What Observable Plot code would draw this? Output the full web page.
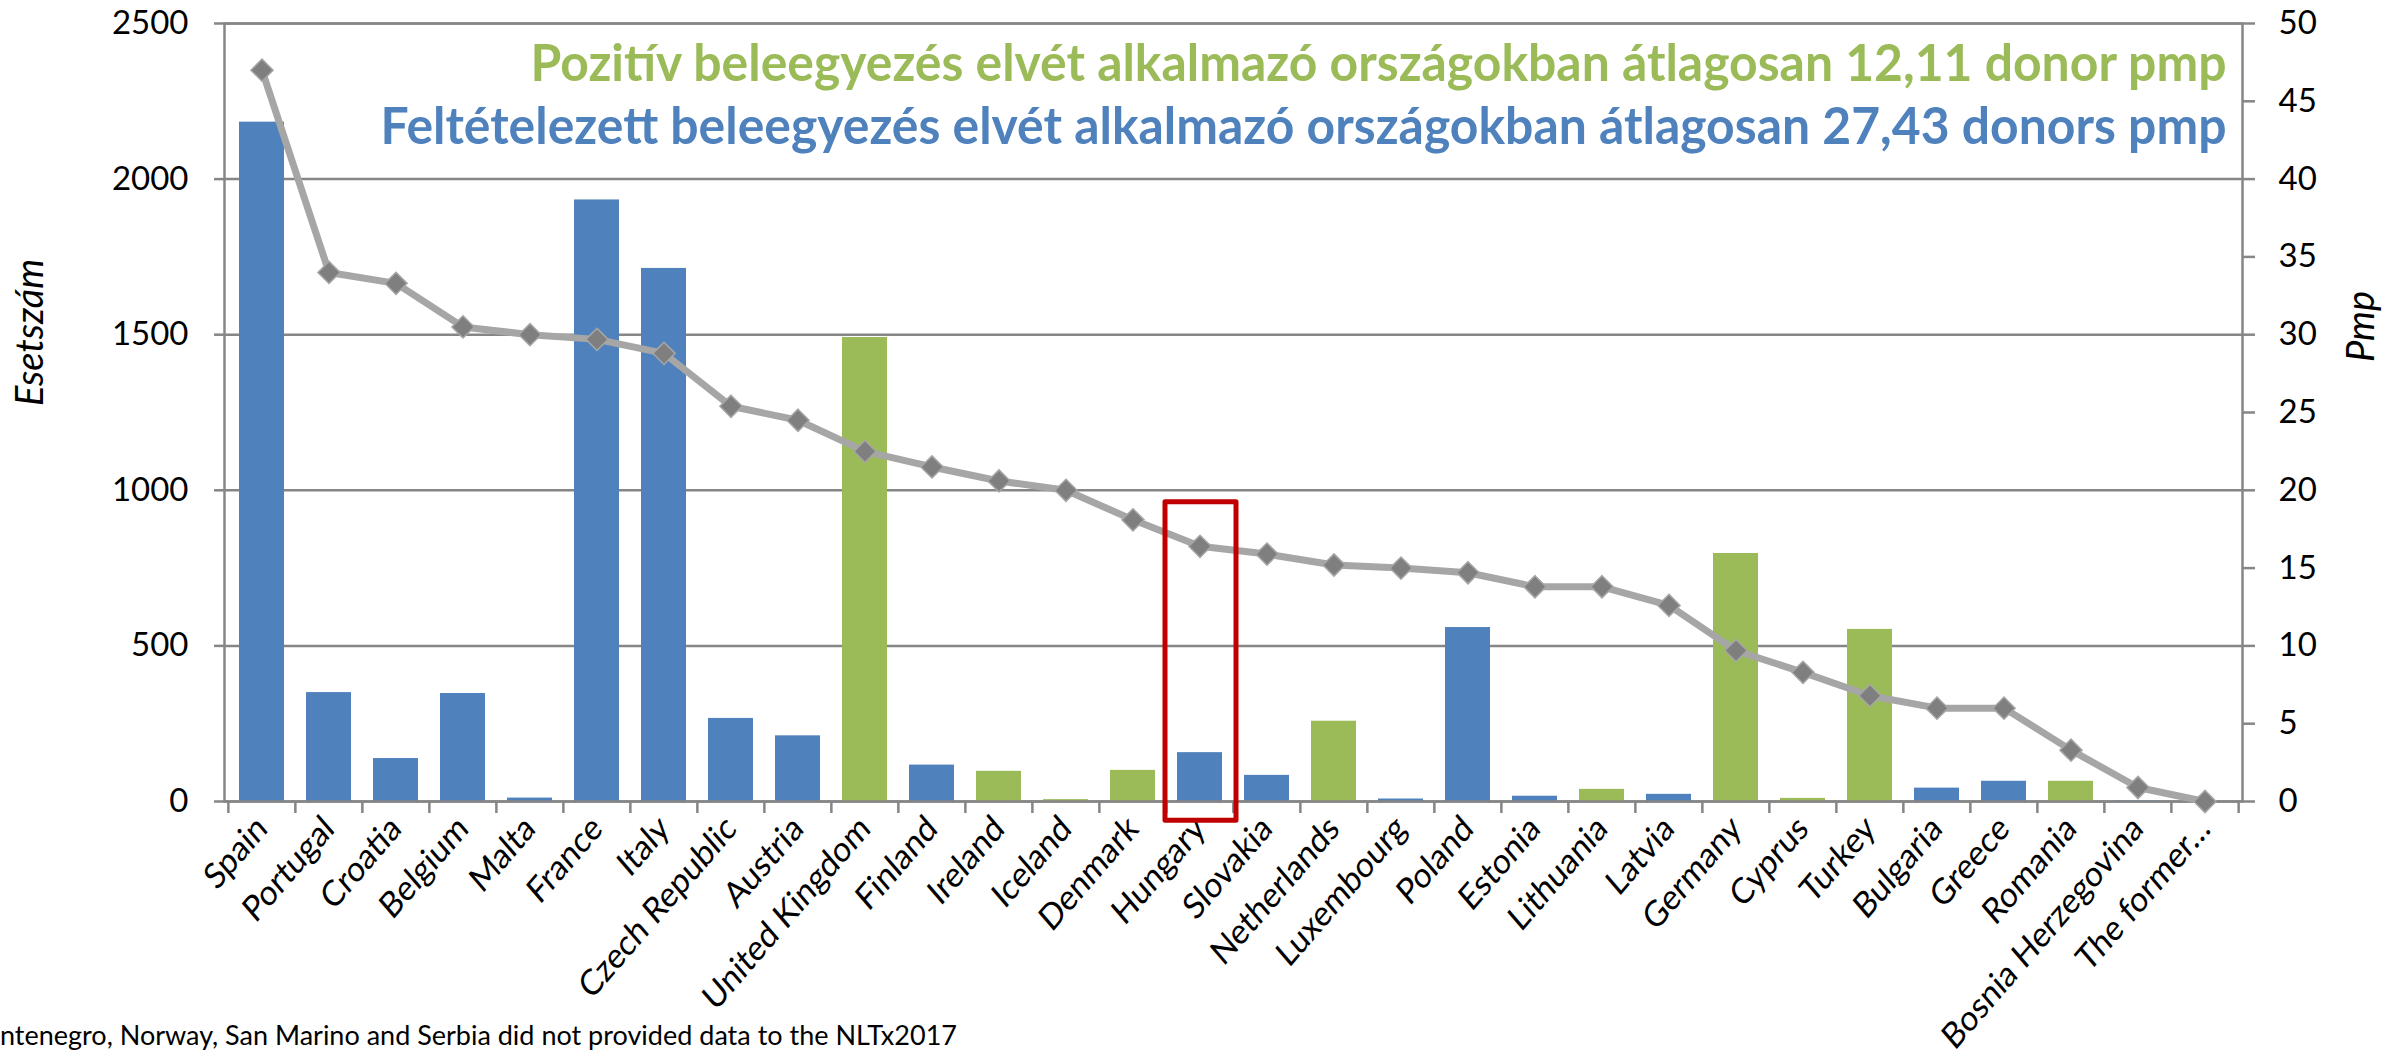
<!DOCTYPE html>
<html>
<head>
<meta charset="utf-8">
<script src="https://cdn.jsdelivr.net/npm/d3@7"></script>
<script src="https://cdn.jsdelivr.net/npm/@observablehq/plot@0.6"></script>
<style>
  html, body { margin: 0; padding: 0; background: #fff; overflow: hidden; }
  #wrap { position: relative; width: 2405px; height: 1059px; overflow: hidden; background: #fff; }
  #note { position: absolute; left: -40px; top: 1019px; font-family: Lato, sans-serif; font-size: 27px; line-height: 32px; white-space: nowrap; color: #000; }
</style>
</head>
<body>
<div id="wrap"><div id="chart"></div><div id="note"></div></div>
<script>
// ---- data ----
const countries = ["Spain","Portugal","Croatia","Belgium","Malta","France","Italy","Czech Republic","Austria","United Kingdom","Finland","Ireland","Iceland","Denmark","Hungary","Slovakia","Netherlands","Luxembourg","Poland","Estonia","Lithuania","Latvia","Germany","Cyprus","Turkey","Bulgaria","Greece","Romania","Bosnia Herzegovina","The former…"];
const cases = [2183, 350, 138, 347, 11, 1933, 1713, 267, 211, 1491, 117, 97, 6, 100, 157, 84, 258, 8, 559, 17, 39, 23, 797, 10, 553, 43, 65, 65, 2, 0];
const pmp = [47.0, 34.0, 33.3, 30.5, 30.0, 29.7, 28.8, 25.4, 24.5, 22.5, 21.5, 20.6, 20.0, 18.1, 16.4, 15.9, 15.2, 15.0, 14.7, 13.8, 13.8, 12.6, 9.7, 8.3, 6.8, 6.0, 6.0, 3.3, 0.9, 0.0];
// P = presumed consent (blue), E = explicit/positive consent (green)
const consent = ["P","P","P","P","P","P","P","P","P","E","P","E","E","E","P","P","E","P","P","P","E","P","E","E","E","P","P","E","P","P"];
const leftTicks = [0, 500, 1000, 1500, 2000, 2500];
const rightTicks = [0, 5, 10, 15, 20, 25, 30, 35, 40, 45, 50];
const highlight = [{country: "Hungary", from: -62, to: 962}];
const titleGreen = "Pozitív beleegyezés elvét alkalmazó országokban átlagosan 12,11 donor pmp";
const titleBlue = "Feltételezett beleegyezés elvét alkalmazó országokban átlagosan 27,43 donors pmp";
const yLeftLabel = "Esetszám";
const yRightLabel = "Pmp";
const footnote = "Montenegro, Norway, San Marino and Serbia did not provided data to the NLTx2017";

const BLUE = "#4F81BD", GREEN = "#9BBB59", GRID = "#868686";
const ratio = 2500 / 50;

const rows = countries.map((c, i) => ({country: c, cases: cases[i], pmp: pmp[i], consent: consent[i]}));

const W = 2405, H = 1059, mL = 224, mR = 163, mT = 23, mB = 258;
const bw = (W - mL - mR) / countries.length;
const TF = 52;

const chart = Plot.plot({
  width: W, height: H,
  marginLeft: mL, marginRight: mR, marginTop: mT, marginBottom: mB,
  style: {fontFamily: "Lato, sans-serif", fontSize: "32px", background: "#fff", color: "#000"},
  x: {domain: countries, padding: 0, label: null},
  y: {domain: [0, 2500], label: null},
  marks: [
    Plot.gridY(leftTicks, {stroke: GRID, strokeOpacity: 1, strokeWidth: 2.5}),
    Plot.barY(rows, {x: "country", y: "cases", fill: d => d.consent === "P" ? BLUE : GREEN, insetLeft: 11, insetRight: 11}),
    Plot.frame({stroke: GRID, strokeWidth: 2.5}),
    Plot.axisY(leftTicks, {anchor: "left", tickSize: 10, tickPadding: 26, fontSize: 33, stroke: GRID, strokeWidth: 2.5, fill: "#000", tickFormat: d => String(d), label: null}),
    Plot.axisY(rightTicks.map(v => v * ratio), {anchor: "right", tickSize: 12, tickPadding: 24, fontSize: 33, stroke: GRID, strokeWidth: 2.5, fill: "#000", tickFormat: d => String(d / ratio), label: null}),
    Plot.axisX(countries, {anchor: "bottom", text: null, tickSize: 12, dx: -bw / 2, stroke: GRID, strokeWidth: 2.5}),
    Plot.axisX([countries[countries.length - 1]], {anchor: "bottom", text: null, tickSize: 12, dx: bw / 2, stroke: GRID, strokeWidth: 2.5}),
    Plot.axisX({anchor: "bottom", tickSize: 0, tickPadding: 21, tickRotate: -45, fontSize: 31, fill: "#000", label: null}),
    Plot.line(rows, {x: "country", y: d => d.pmp * ratio, stroke: "#A6A6A6", strokeWidth: 7, strokeLinejoin: "round"}),
    Plot.dot(rows, {x: "country", y: d => d.pmp * ratio, symbol: "diamond2", r: 10, fill: "#7F7F7F", stroke: "#A6A6A6", strokeWidth: 1.5}),
    Plot.barY(highlight, {x: "country", y1: "from", y2: "to", fill: "none", stroke: "#C00000", strokeWidth: 5, strokeLinejoin: "round", insetLeft: -1, insetRight: -3}),
    Plot.text([titleGreen], {text: d => d, frameAnchor: "top-right", dx: -16, dy: 80 - 0.32 * TF - mT, textAnchor: "end", lineAnchor: "middle", fill: GREEN, fontWeight: "bold", fontSize: TF}),
    Plot.text([titleBlue], {text: d => d, frameAnchor: "top-right", dx: -16, dy: 143 - 0.32 * TF - mT, textAnchor: "end", lineAnchor: "middle", fill: BLUE, fontWeight: "bold", fontSize: TF}),
    Plot.text([yLeftLabel], {text: d => d, frameAnchor: "left", dx: -194, dy: -80, rotate: -90, textAnchor: "middle", lineAnchor: "middle", fontStyle: "italic", fontSize: 38, fill: "#000"}),
    Plot.text([yRightLabel], {text: d => d, frameAnchor: "right", dx: 119, dy: -86, rotate: -90, textAnchor: "middle", lineAnchor: "middle", fontStyle: "italic", fontSize: 38, fill: "#000"})
  ]
});

chart.querySelectorAll("text").forEach(t => {
  if (t.textContent === titleGreen) { t.setAttribute("textLength", 1696); t.setAttribute("lengthAdjust", "spacingAndGlyphs"); }
  if (t.textContent === titleBlue) { t.setAttribute("textLength", 1846); t.setAttribute("lengthAdjust", "spacingAndGlyphs"); }
  const tr = t.getAttribute("transform");
  if (tr && tr.includes("rotate(-45)")) {
    t.setAttribute("transform", tr.replace("rotate(-45)", "scale(1,1.16) rotate(-45)"));
  }
});

document.getElementById("chart").appendChild(chart);
document.getElementById("note").textContent = footnote;
</script>
</body>
</html>
